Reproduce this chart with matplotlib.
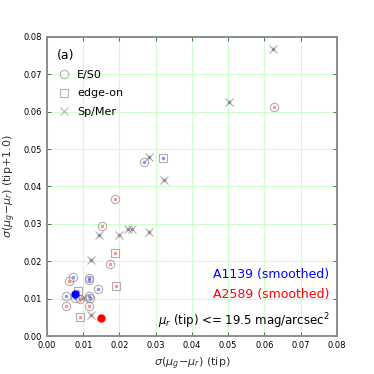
import matplotlib
matplotlib.use("Agg")
import matplotlib.pyplot as plt
from matplotlib.lines import Line2D

# A1139 (blue)
a1139_es0_x = [0.0267, 0.0073, 0.0116, 0.0117, 0.0142, 0.0052, 0.0078, 0.0117, 0.0119]
a1139_es0_y = [0.0465, 0.0159, 0.0155, 0.0150, 0.0127, 0.0107, 0.0101, 0.0107, 0.0102]
a1139_edge_x = [0.0321]
a1139_edge_y = [0.0477]
a1139_sp_x = [0.0623, 0.0502, 0.0282, 0.0144, 0.0224]
a1139_sp_y = [0.0767, 0.0626, 0.0478, 0.0271, 0.0286]

# A2589 (red)
a2589_es0_x = [0.0627, 0.0189, 0.0153, 0.0174, 0.0062, 0.0091, 0.0052, 0.0117]
a2589_es0_y = [0.0611, 0.0365, 0.0294, 0.0192, 0.0147, 0.0099, 0.0081, 0.0079]
a2589_edge_x = [0.0188, 0.0190, 0.0086, 0.0092]
a2589_edge_y = [0.0223, 0.0134, 0.0119, 0.0050]
a2589_sp_x = [0.0324, 0.0199, 0.0235, 0.0281, 0.0121, 0.0098, 0.0121]
a2589_sp_y = [0.0417, 0.0271, 0.0286, 0.0279, 0.0203, 0.0101, 0.0057]

# smoothed
smooth_a1139 = (0.0076, 0.0112)
smooth_a2589 = (0.0148, 0.0047)

fig = plt.figure(figsize=(3.74, 3.74), dpi=100)
ax = fig.add_axes([0.1257, 0.1016, 0.775, 0.80])

grey = '0.55'
def plot_group(xs, ys, marker, dotcolor, ms):
    ax.plot(xs, ys, linestyle='none', marker='o', ms=2.6, mfc=dotcolor, mec='none', alpha=0.55, zorder=3)
    ax.plot(xs, ys, linestyle='none', marker=marker, ms=ms, mfc='none', mec=grey, mew=0.8, alpha=0.7, zorder=4)

blue_dot = '#3a3aff'
red_dot = '#ff3a3a'
plot_group(a1139_es0_x, a1139_es0_y, 'o', blue_dot, 6)
plot_group(a1139_edge_x, a1139_edge_y, 's', blue_dot, 5.5)
plot_group(a1139_sp_x, a1139_sp_y, 'x', '#2020a0', 6)
plot_group(a2589_es0_x, a2589_es0_y, 'o', red_dot, 6)
plot_group(a2589_edge_x, a2589_edge_y, 's', red_dot, 5.5)
plot_group(a2589_sp_x, a2589_sp_y, 'x', '#a02020', 6)

ax.plot([smooth_a1139[0]], [smooth_a1139[1]], 'o', color='blue', ms=5, zorder=5)
ax.plot([smooth_a2589[0]], [smooth_a2589[1]], 'o', color='red', ms=5, zorder=5)

ax.set_xlim(0, 0.08)
ax.set_ylim(0, 0.08)
ticks = [0.00, 0.01, 0.02, 0.03, 0.04, 0.05, 0.06, 0.07, 0.08]
ax.set_xticks(ticks)
ax.set_yticks(ticks)
ax.set_xticklabels(['0.00', '0.01', '0.02', '0.03', '0.04', '0.05', '0.06', '0.07', '0.08'])
ax.set_yticklabels(['0.00', '0.01', '0.02', '0.03', '0.04', '0.05', '0.06', '0.07', '0.08'])
ax.tick_params(direction='in', top=True, right=True, labelsize=6, length=3, width=0.6, colors='0.3', labelcolor='black')
ax.grid(True, color='#ccffcc', linewidth=0.8)
ax.set_axisbelow(True)
for s in ax.spines.values():
    s.set_color('0.55')
    s.set_linewidth(1.4)

ax.set_xlabel(r'$\sigma(\mu_g\!-\!\mu_r)$ (tip)', fontsize=8, color='0.2')
ax.set_ylabel(r'$\sigma(\mu_g\!-\!\mu_r)$ (tip+1.0)', fontsize=8, color='0.2')

lg = '0.7'
handles = [Line2D([], [], linestyle='none', marker='o', ms=6, mfc='none', mec=lg, mew=0.8),
           Line2D([], [], linestyle='none', marker='s', ms=5.5, mfc='none', mec=lg, mew=0.8),
           Line2D([], [], linestyle='none', marker='x', ms=6, mfc='none', mec=lg, mew=0.8)]
leg = ax.legend(handles, ['E/S0', 'edge-on', 'Sp/Mer'], loc='upper left', bbox_to_anchor=(0.0, 0.922),
                frameon=False, fontsize=8, labelspacing=0.75, handletextpad=0.6, handlelength=1.2)
leg.set_zorder(6)
ax.text(0.035, 0.958, '(a)', transform=ax.transAxes, fontsize=9, va='top', ha='left')

ax.text(0.975, 0.205, 'A1139 (smoothed)', transform=ax.transAxes, fontsize=9, color='blue', ha='right', va='center')
ax.text(0.975, 0.138, 'A2589 (smoothed)', transform=ax.transAxes, fontsize=9, color='red', ha='right', va='center')
ax.text(0.975, 0.05, r'$\mu_r$ (tip) <= 19.5 mag/arcsec$^2$', transform=ax.transAxes, fontsize=8.5, color='black', ha='right', va='center')

fig.savefig('out.png', dpi=100)
